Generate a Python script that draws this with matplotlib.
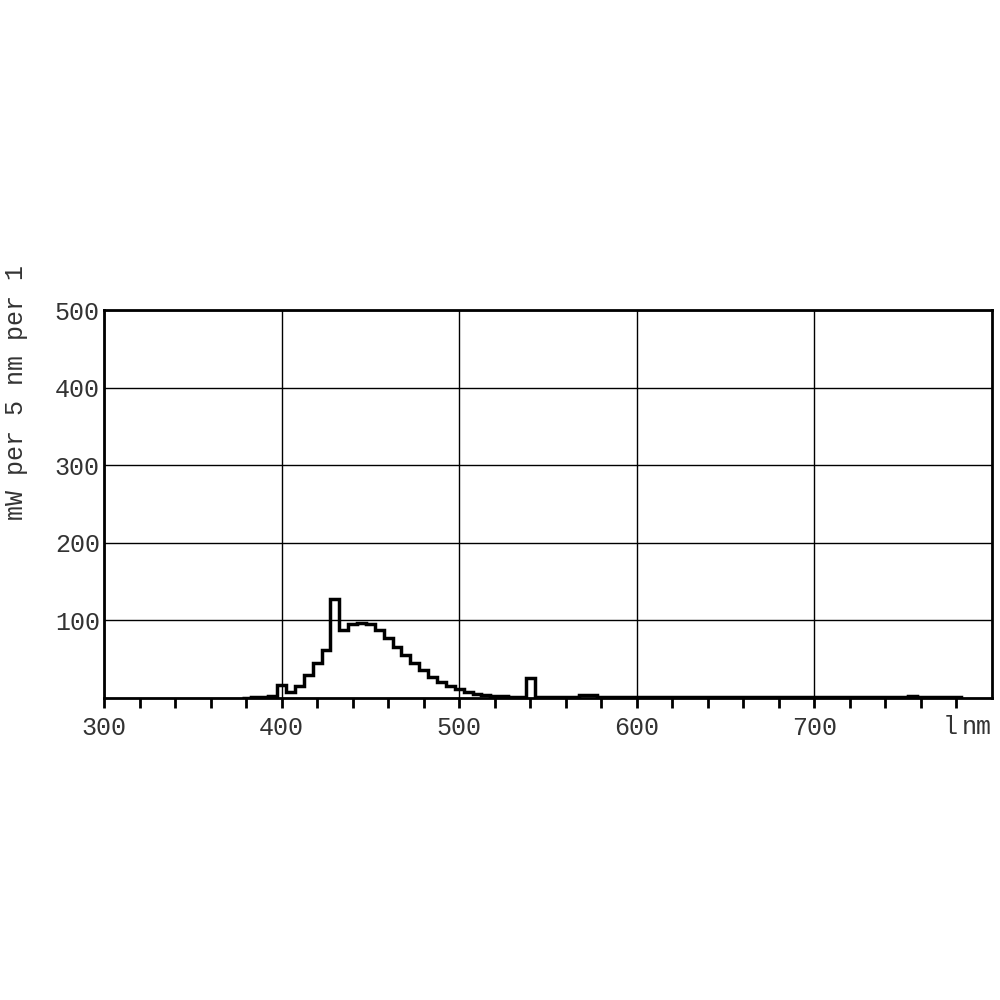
import matplotlib
matplotlib.use("Agg")
import matplotlib.pyplot as plt
import numpy as np

# 5 nm bins, centred on 380 .. 780
bin_centers = list(range(380, 785, 5))
power = [0.5, 1, 1.5, 2,            # 380-395
         17, 8, 15, 30, 45, 62,      # 400-425
         128, 88, 95, 97, 95, 88,    # 430-455
         77, 66, 55, 45, 36, 27,     # 460-485
         21, 15.5, 11.6, 8, 5, 4,    # 490-515
         3, 2, 1.5, 1, 26, 1,        # 520-545
         1, 1, 1, 1, 4, 4,           # 550-575
         1, 1, 1, 1, 1, 1,           # 580-605
         1, 1, 1, 1, 1, 1,           # 610-635
         1, 1, 1, 1, 1, 1,           # 640-665
         1, 1, 1, 1, 1, 1,           # 670-695
         1, 1, 1, 1, 1, 1,           # 700-725
         1, 1, 1, 1, 1, 2,           # 730-755
         1, 1, 1, 1, 1]              # 760-780
power = power[:len(bin_centers)]
edges = [c - 2.5 for c in bin_centers] + [bin_centers[-1] + 2.5]

x_major = [300, 400, 500, 600, 700]
x_labels = ["300", "400", "500", "600", "700"]
y_major = [100, 200, 300, 400, 500]
y_labels = ["100", "200", "300", "400", "500"]

font = "Liberation Mono"
plt.rcParams['font.family'] = [font, 'DejaVu Sans Mono']

fig = plt.figure(figsize=(10, 10), dpi=100)
ax = fig.add_axes([0.104, 0.302, 0.888, 0.388])
ax.set_xlim(300, 800)
ax.set_ylim(0, 500)

ax.stairs(power, edges, color="black", linewidth=2.5, baseline=0, fill=False)

ax.set_xticks(x_major)
ax.set_xticklabels(x_labels, fontsize=18, color="#333333")
ax.set_xticks(np.arange(300, 800, 20), minor=True)
ax.tick_params(axis='x', which='both', direction='out', length=7, width=2,
               color='black', pad=6)
ax.set_yticks(y_major)
ax.set_yticklabels(y_labels, fontsize=18, color="#333333")
ax.tick_params(axis='y', length=0, pad=3)

ax.grid(True, which='major', color='black', linewidth=1.0)
for s in ax.spines.values():
    s.set_linewidth(2)
ax.set_axisbelow(False)

trans = ax.get_xaxis_transform()
ax.text(776.5, -0.075, "l", fontsize=18, color="#333333", ha='center',
        va='center', transform=trans, clip_on=False)
ax.text(800, -0.075, "nm", fontsize=18, color="#333333", ha='right',
        va='center', transform=trans, clip_on=False)
fig.text(0.016, 0.608, "mW per 5 nm per 1", rotation=90, fontsize=18,
         color="#333333", ha='center', va='center')

fig.savefig("out.png", dpi=100)
